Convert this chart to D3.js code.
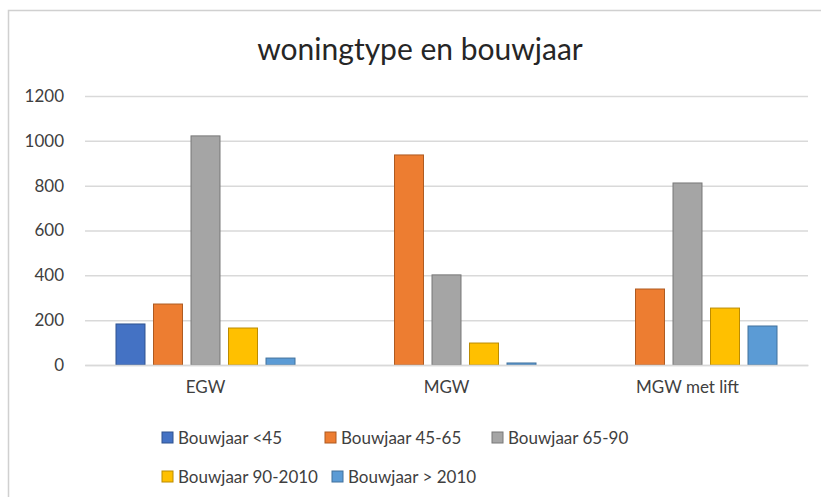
<!DOCTYPE html>
<html>
<head>
<meta charset="utf-8">
<script src="https://cdn.jsdelivr.net/npm/d3@7"></script>
<style>
  body { margin: 0; background: #fff; }
  text { font-family: Lato, "Open Sans", sans-serif; fill: #595959; }
</style>
</head>
<body>
<div id="chart"></div>
<script>
// data
var categories = ["EGW", "MGW", "MGW met lift"];
var seriesNames = ["Bouwjaar <45", "Bouwjaar 45-65", "Bouwjaar 65-90", "Bouwjaar 90-2010", "Bouwjaar > 2010"];
var seriesColors = ["#4472c4", "#ed7d31", "#a5a5a5", "#ffc000", "#5b9bd5"];
var seriesStroke = ["#2f528f", "#ae5a21", "#787878", "#bc8c00", "#41719c"];
var values = [
  [183, 0, 0],      // <45
  [272, 937, 339],  // 45-65
  [1022, 402, 812], // 65-90
  [165, 98, 254],   // 90-2010
  [31, 9, 174]      // > 2010
];
var yTicks = [0, 200, 400, 600, 800, 1000, 1200];

var W = 821, H = 497;
var plot = {left: 85, right: 808, top: 96, bottom: 365};

var svg = d3.select("#chart").append("svg")
  .attr("width", W).attr("height", H);

// outer frame of the chart
svg.append("rect")
  .attr("x", 8.5).attr("y", 10.5)
  .attr("width", W + 20).attr("height", H + 20)
  .attr("fill", "#fff").attr("stroke", "#d0d0d0").attr("stroke-width", 1.5);

svg.append("text")
  .attr("x", 420).attr("y", 60)
  .attr("text-anchor", "middle")
  .style("font-size", "30px").style("fill", "#262626")
  .text("woningtype en bouwjaar");

var y = d3.scaleLinear().domain([0, 1200]).range([plot.bottom, plot.top]);
var x0 = d3.scaleBand().domain(categories).range([plot.left, plot.right]);
var x1 = d3.scaleBand().domain(d3.range(seriesNames.length))
  .range([31, x0.bandwidth() - 31]).paddingInner(0.227);

// gridlines + y labels
var yAxis = svg.append("g")
  .attr("transform", "translate(" + plot.left + ",0)")
  .call(d3.axisLeft(y).tickValues(yTicks).tickFormat(d3.format("d"))
    .tickSize(-(plot.right - plot.left)).tickPadding(21));
yAxis.select(".domain").remove();
yAxis.selectAll(".tick line").attr("stroke", "#d9d9d9").attr("stroke-width", 1.5);
yAxis.selectAll(".tick text").style("font-size", "17px").style("fill", "#404040");

// bars
var rows = [];
values.forEach(function(vals, s) {
  vals.forEach(function(v, c) { rows.push({s: s, c: categories[c], v: v}); });
});
svg.append("g").selectAll("rect")
  .data(rows.filter(function(d) { return d.v > 0; }))
  .enter().append("rect")
  .attr("x", function(d) { return x0(d.c) + x1(d.s); })
  .attr("y", function(d) { return y(d.v); })
  .attr("width", x1.bandwidth())
  .attr("height", function(d) { return y(0) - y(d.v); })
  .attr("fill", function(d) { return seriesColors[d.s]; })
  .attr("stroke", function(d) { return seriesStroke[d.s]; })
  .attr("stroke-width", 1);

// x axis
var xAxis = svg.append("g")
  .attr("transform", "translate(0," + plot.bottom + ")")
  .call(d3.axisBottom(x0).tickSize(0).tickPadding(16));
xAxis.select(".domain").attr("stroke", "#d9d9d9").attr("stroke-width", 1.5);
xAxis.selectAll(".tick text").style("font-size", "17px").style("fill", "#404040");

// legend
var legendPos = [
  [162, 438], [325, 438], [492, 438],
  [162, 477], [332, 477]
];
var legend = svg.append("g").selectAll("g")
  .data(seriesNames).enter().append("g")
  .attr("transform", function(d, i) { return "translate(" + legendPos[i][0] + "," + legendPos[i][1] + ")"; });
legend.append("rect")
  .attr("x", 0).attr("y", -6).attr("width", 11).attr("height", 11)
  .attr("fill", function(d, i) { return seriesColors[i]; })
  .attr("stroke", function(d, i) { return seriesStroke[i]; });
legend.append("text")
  .attr("x", 16).attr("y", 0).attr("dy", "0.35em")
  .style("font-size", "17px").style("fill", "#404040")
  .text(function(d) { return d; });
</script>
</body>
</html>
